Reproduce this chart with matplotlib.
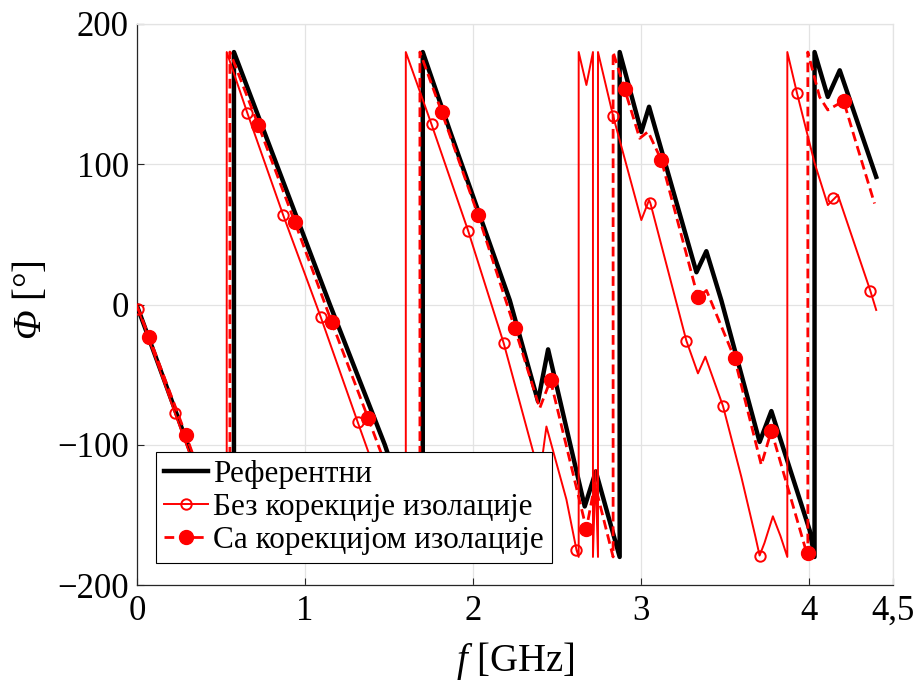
import matplotlib
matplotlib.use('Agg')
import matplotlib.pyplot as plt
from matplotlib.lines import Line2D

plt.rcParams['font.family'] = ['Liberation Serif', 'DejaVu Serif']
plt.rcParams['mathtext.fontset'] = 'custom'
plt.rcParams['mathtext.rm'] = 'Liberation Serif'
plt.rcParams['mathtext.it'] = 'Liberation Serif:italic'
# capital Greek is forced upright in mathit, so sf carries the italic face
plt.rcParams['mathtext.sf'] = 'Liberation Serif:italic'

# wrapped phase, jumps at +-180 are kept as repeated frequencies
ref_f = [0.000, 0.315, 0.577, 0.577, 1.148, 1.475, 1.701, 1.701, 1.862, 2.219,
         2.387, 2.447, 2.665, 2.731, 2.873, 2.873, 3.002, 3.048, 3.330, 3.389,
         3.478, 3.706, 3.776, 4.004, 4.033, 4.033, 4.112, 4.183, 4.400]
ref_phi = [-1, -104, -180, 180, 0, -100, -180, 180, 124, 3,
           -69, -32, -144, -119, -180, 180, 123, 141, 23, 38,
           3, -98, -76, -161, -180, 180, 148, 167, 91]

nc_f = [0.000, 0.226, 0.534, 0.534, 0.656, 0.870, 1.093, 1.313, 1.600, 1.600,
        1.753, 1.971, 2.183, 2.358, 2.400, 2.437, 2.556, 2.616, 2.629, 2.629,
        2.675, 2.714, 2.714, 2.729, 2.744, 2.744, 2.834, 3.002, 3.048, 3.056,
        3.270, 3.339, 3.383, 3.488, 3.597, 3.680, 3.706, 3.735, 3.785, 3.830,
        3.871, 3.871, 3.928, 4.033, 4.112, 4.172, 4.365, 4.400]
nc_phi = [-1, -77.6, -180, 180, 136.8, 63.8, -8.7, -83.6, -180, 180,
          128.5, 52.6, -27.7, -105, -120, -87, -139, -175, -180, 180,
          156.5, 180, -180, -118, -180, 180, 134.4, 60.2, 74.5, 72.2,
          -25.8, -49.1, -37.2, -72.4, -122.8, -165, -179, -170, -151, -165,
          -180, 180, 151.0, 101, 70.9, 78.1, 9.8, -3.9]

nc_mf = [0.008, 0.226, 0.444, 0.656, 0.870, 1.093, 1.313, 1.530, 1.753, 1.971,
         2.183, 2.400, 2.616, 2.834, 3.056, 3.270, 3.488, 3.706, 3.928, 4.142,
         4.365]
nc_mp = [-3.4, -77.6, -150, 136.8, 63.8, -8.7, -83.6, -156, 128.5, 52.6,
         -27.7, -120, -175, 134.4, 72.2, -25.8, -72.4, -179.3, 151.0, 75.7,
         9.8]

wc_f = [0.000, 0.073, 0.291, 0.553, 0.553, 0.722, 0.940, 1.158, 1.376, 1.684,
        1.684, 1.813, 2.030, 2.249, 2.397, 2.461, 2.675, 2.725, 2.834, 2.834,
        2.903, 2.992, 3.042, 3.121, 3.339, 3.390, 3.557, 3.716, 3.776, 3.993,
        3.993, 4.063, 4.112, 4.206, 4.281, 4.390]
wc_phi = [-1, -23.4, -93, -180, 180, 128, 58.6, -12.3, -81.1, -180,
          180, 137.5, 63.8, -17, -74, -54, -160, -128, -180, 180,
          153.4, 118.5, 123.2, 103, 5, 10, -38.4, -114.4, -90, -180,
          180, 148, 138.7, 145.1, 115, 72]

wc_mf = [0.073, 0.291, 0.509, 0.722, 0.940, 1.158, 1.376, 1.594, 1.813, 2.030,
         2.249, 2.467, 2.675, 2.903, 3.121, 3.339, 3.557, 3.776, 3.993, 4.206]
wc_mp = [-23.4, -93, -165, 128, 58.6, -12.3, -81.1, -151, 137.5, 63.8,
         -17, -54, -160, 153.4, 103, 5, -38.4, -90, -177.4, 145.1]

labels = ['Референтни', 'Без корекције изолације', 'Са корекцијом изолације']
xticks = [0, 1, 2, 3, 4, 4.5]
xtick_labels = ['0', '1', '2', '3', '4', '4,5']
yticks = [-200, -100, 0, 100, 200]

dash = (0, (3.5, 1.8))

fig = plt.figure(figsize=(9.2, 6.84), dpi=100)
ax = fig.add_axes([137 / 920, 99 / 684, 756 / 920, 561 / 684])

ax.plot(ref_f, ref_phi, color='k', lw=3.2, solid_joinstyle='round', zorder=3)
ax.plot(nc_f, nc_phi, color='r', lw=1.4, zorder=4)
ax.plot(nc_mf, nc_mp, 'o', color='r', mfc='none', ms=7.5, mew=1.4, zorder=4)
ax.plot(wc_f, wc_phi, color='r', lw=2.0, ls=dash, zorder=5)
ax.plot(wc_mf, wc_mp, 'o', color='r', ms=10, zorder=6)

ax.set_xlim(0, 4.5)
ax.set_ylim(-200, 200)
ax.set_xticks(xticks)
ax.set_xticklabels(xtick_labels)
ax.set_yticks(yticks)
ax.tick_params(direction='in', length=5, width=0.8, labelsize=25,
               color='#262626', top=False, right=False)
ax.tick_params(axis='x', pad=7)
ax.tick_params(axis='y', pad=6)
ax.grid(True, color='#e3e3e3', lw=0.9)
ax.set_axisbelow(True)
for side in ['left', 'bottom']:
    ax.spines[side].set_color('#262626')
    ax.spines[side].set_linewidth(0.9)
for side in ['top', 'right']:
    ax.spines[side].set_color('#e3e3e3')
    ax.spines[side].set_linewidth(0.9)

ax.set_xlabel(r'$\mathit{f}$ [GHz]', fontsize=28)
ax.set_ylabel(r'$\mathsf{Φ}$ [°]', fontsize=28)
ax.xaxis.set_label_coords(0.5, -0.098)
ax.yaxis.set_label_coords(-0.115, 0.508)

handles = [
    Line2D([], [], color='k', lw=3.2),
    Line2D([], [], color='r', lw=1.4, marker='o', mfc='none', ms=7.5, mew=1.4),
    Line2D([], [], color='r', lw=2.0, ls=dash, marker='o', ms=10),
]
leg = ax.legend(handles, labels, loc='lower left', bbox_to_anchor=(0.025, 0.039),
                borderaxespad=0, fontsize=22.5, frameon=True, fancybox=False,
                edgecolor='k', framealpha=1, handlelength=1.4,
                handletextpad=0.16, labelspacing=0.12, borderpad=0.27)
leg.get_frame().set_linewidth(0.8)
leg.set_zorder(10)

fig.savefig('out.png', dpi=100)
